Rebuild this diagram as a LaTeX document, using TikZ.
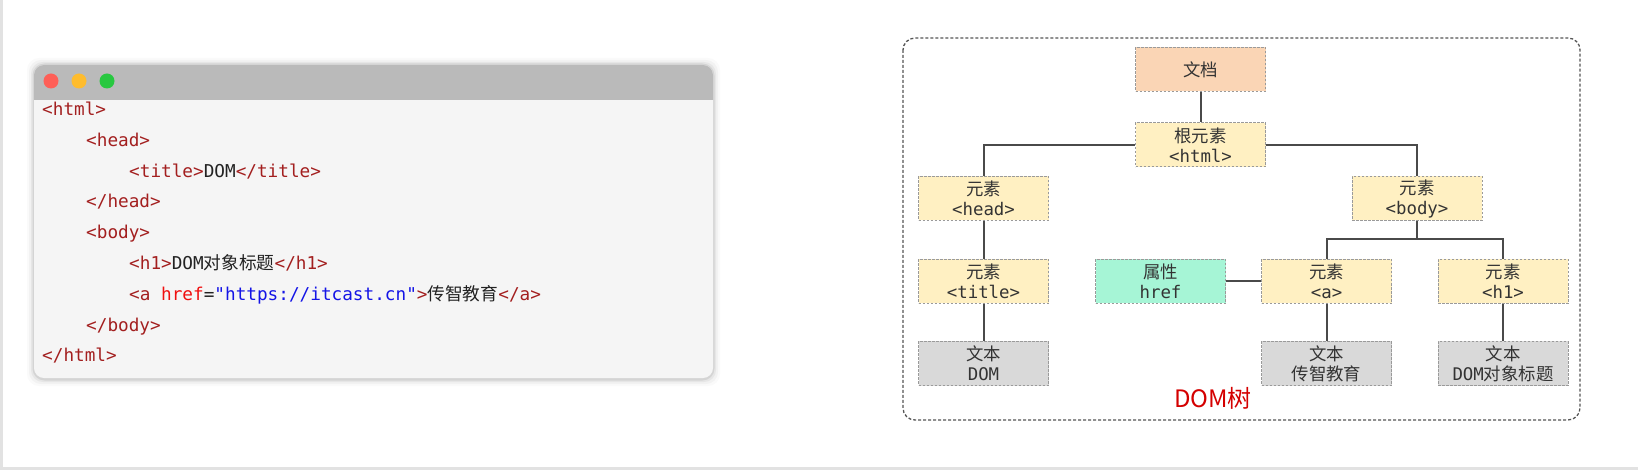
\documentclass[tikz,border=0pt]{standalone}
\usepackage{fontspec}
\setmainfont{Noto Sans CJK SC}
\setmonofont{DejaVu Sans Mono}
\newfontfamily\cjk{Noto Sans CJK SC}

\definecolor{pagegray}{HTML}{E2E2E2}
\definecolor{barcol}{HTML}{BABABA}
\definecolor{codebg}{HTML}{F5F5F5}
\definecolor{dotred}{HTML}{FE5F57}
\definecolor{dotyellow}{HTML}{FEBC2E}
\definecolor{dotgreen}{HTML}{28C840}
\definecolor{tagred}{HTML}{A31F1F}
\definecolor{attrred}{HTML}{F01010}
\definecolor{strblue}{HTML}{1414E6}
\definecolor{codetext}{HTML}{222222}
\definecolor{framegray}{HTML}{555555}
\definecolor{nodeline}{HTML}{9A9A9A}
\definecolor{nodetext}{HTML}{333333}
\definecolor{linkgray}{HTML}{4A4A4A}
\definecolor{docfill}{HTML}{FAD5B5}
\definecolor{elemfill}{HTML}{FFF0C2}
\definecolor{attrfill}{HTML}{A6F5D6}
\definecolor{textfill}{HTML}{D9D9D9}
\definecolor{treered}{HTML}{D40000}

\newcommand\tg[1]{\textcolor{tagred}{#1}}
\newcommand\atn[1]{\textcolor{attrred}{#1}}
\newcommand\strv[1]{\textcolor{strblue}{#1}}

\begin{document}
\begin{tikzpicture}[x=1bp,y=-1bp,
    elem/.style={draw=nodeline, dash pattern=on 2.5bp off 1.5bp, line width=1bp,
      fill=elemfill, text=nodetext, minimum width=130bp, minimum height=44bp,
      inner sep=0pt, align=center, font=\fontsize{17.4bp}{20bp}\selectfont},
    docbox/.style={elem, fill=docfill},
    attrbox/.style={elem, fill=attrfill},
    textbox/.style={elem, fill=textfill},
    link/.style={draw=linkgray, line width=2bp},
    codeline/.style={anchor=base west, inner sep=0pt, text=codetext,
      font=\fontsize{17.7bp}{20bp}\ttfamily}]

    \useasboundingbox (0,0) rectangle (1638,473);
    \draw[pagegray, line width=3bp] (1.5,0) -- (1.5,468.5) -- (1638,468.5);

    % code window
    \foreach \s/\o in {7/0.02,5/0.03,3/0.05,1.5/0.08}
      \fill[black, opacity=\o, rounded corners=12] (34-\s,65-\s) rectangle (713+\s,379+\s);
    \fill[codebg, rounded corners=10] (34,65) rectangle (713,378);
    \fill[barcol] (34,100) [rounded corners=10] -- (34,65) -- (713,65) [sharp corners] -- (713,100) -- cycle;
    \fill[dotred] (51,81) circle (7.5);
    \fill[dotyellow] (79,81) circle (7.5);
    \fill[dotgreen] (107,81) circle (7.5);

    \node[codeline] (c1) at (42,115.5) {\tg{<html>}};
    \node[codeline] (c2) at (86,146.3) {\tg{<head>}};
    \node[codeline] (c3) at (129,177.1) {\tg{<title>}DOM\tg{</title>}};
    \node[codeline] (c4) at (86,207.9) {\tg{</head>}};
    \node[codeline] (c5) at (86,238.7) {\tg{<body>}};
    \node[codeline] (c6) at (129,269.5) {\tg{<h1>}DOM{\cjk 对象标题}\tg{</h1>}};
    \node[codeline] (c7) at (129,300.3) {\tg{<a} \atn{href}=\strv{"https://itcast.cn"}\tg{>}{\cjk 传智教育}\tg{</a>}};
    \node[codeline] (c8) at (86,331.1) {\tg{</body>}};
    \node[codeline] (c9) at (42,361.9) {\tg{</html>}};

    % DOM tree
    \draw[framegray, line width=1.3bp, dash pattern=on 3bp off 2bp, rounded corners=12] (903,38) rectangle (1580,420);

    \node[docbox] (doc) at (1200.5,69.5) {文档};
    \node[elem] (root) at (1200.5,145) {根元素\\\texttt{<html>}};
    \node[elem] (head) at (983.5,198.5) {元素\\\texttt{<head>}};
    \node[elem] (body) at (1417,198.5) {元素\\\texttt{<body>}};
    \node[elem] (title) at (983.5,281.5) {元素\\\texttt{<title>}};
    \node[attrbox] (attr) at (1160.5,281.5) {属性\\\texttt{href}};
    \node[elem] (aelem) at (1326.5,281.5) {元素\\\texttt{<a>}};
    \node[elem] (hone) at (1503,281.5) {元素\\\texttt{<h1>}};
    \node[textbox] (tdom) at (983.5,363.5) {文本\\\texttt{DOM}};
    \node[textbox] (tchuan) at (1326.5,363.5) {文本\\传智教育};
    \node[textbox] (th1) at (1503,363.5) {文本\\\texttt{DOM}对象标题};

    \draw[link] (doc) -- (root);
    \draw[link] (root.west) -| (head.north);
    \draw[link] (root.east) -| (body.north);
    \draw[link] (head) -- (title);
    \draw[link] (title) -- (tdom);
    \coordinate (fork) at (1417,239);
    \draw[link] (body.south) -- (fork) -| (aelem.north);
    \draw[link] (fork) -| (hone.north);
    \draw[link] (attr) -- (aelem);
    \draw[link] (aelem) -- (tchuan);
    \draw[link] (hone) -- (th1);

    \node[text=treered, font=\fontsize{24bp}{28bp}\selectfont] (cap) at (1213,398) {DOM树};

\end{tikzpicture}
\end{document}
